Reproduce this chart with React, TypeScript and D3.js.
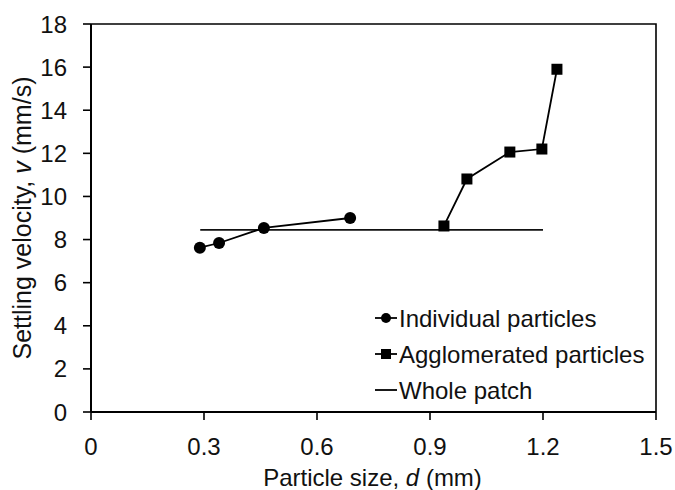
import React from "react";
import * as d3 from "d3";

const individualD = [0.289, 0.34, 0.459, 0.688];
const individualV = [7.62, 7.84, 8.54, 9.0];
const agglomD = [0.937, 0.998, 1.112, 1.197, 1.237];
const agglomV = [8.63, 10.81, 12.06, 12.2, 15.9];
const wholeD = [0.29, 1.2];
const wholeV = [8.45, 8.45];
const xTicks = [0, 0.3, 0.6, 0.9, 1.2, 1.5];
const yTicks = [0, 2, 4, 6, 8, 10, 12, 14, 16, 18];
const legendLabels = ["Individual particles", "Agglomerated particles", "Whole patch"];

const W = 675, H = 490;
const M = { left: 91, right: 656, top: 24, bottom: 412 };
const FONT = "'Liberation Sans', Arial, sans-serif";

export default function App() {
  const x = d3.scaleLinear().domain([0, 1.5]).range([M.left, M.right]);
  const y = d3.scaleLinear().domain([0, 18]).range([M.bottom, M.top]);
  const line = d3.line<[number, number]>().x(d => x(d[0])).y(d => y(d[1]));
  const ind = individualD.map((d, i) => [d, individualV[i]] as [number, number]);
  const agg = agglomD.map((d, i) => [d, agglomV[i]] as [number, number]);
  const whole = wholeD.map((d, i) => [d, wholeV[i]] as [number, number]);
  const fs = 24;
  const legX = 375, legY = 318, legStep = 36;
  return (
    <svg width={W} height={H} style={{ position: "absolute", left: 0, top: 0, background: "#fff" }}
      fontFamily={FONT}>
      <rect x={0} y={0} width={W} height={H} fill="#fff" />
      {/* frame */}
      <path d={`M${M.left},${M.top}H${M.right}V${M.bottom}`} fill="none" stroke="#000" strokeWidth={1.6} />
      <line x1={M.left} x2={M.left} y1={M.top} y2={M.bottom} stroke="#000" strokeWidth={2} />
      <line x1={M.left} x2={M.right} y1={M.bottom} y2={M.bottom} stroke="#000" strokeWidth={2} />
      {yTicks.map(t => (
        <g key={"y" + t}>
          <line x1={M.left - 8} x2={M.left} y1={y(t)} y2={y(t)} stroke="#000" strokeWidth={1.6} />
          <text x={67} y={y(t) + 8.5} textAnchor="end" fontSize={fs} fill="#111">{t}</text>
        </g>
      ))}
      {xTicks.map(t => (
        <g key={"x" + t}>
          <line x1={x(t)} x2={x(t)} y1={M.bottom} y2={M.bottom + 8} stroke="#000" strokeWidth={1.6} />
          <text x={x(t)} y={455} textAnchor="middle" fontSize={fs} fill="#111">{t}</text>
        </g>
      ))}
      <text x={(M.left + M.right) / 2 - 1} y={486} textAnchor="middle" fontSize={fs} fill="#111">
        Particle size, <tspan fontStyle="italic">d</tspan> (mm)
      </text>
      <text transform={`translate(31,${(M.top + M.bottom) / 2}) rotate(-90)`} textAnchor="middle" fontSize={25} fill="#111">
        Settling velocity, <tspan fontStyle="italic">v</tspan> (mm/s)
      </text>
      {/* whole patch */}
      <path d={line(whole) || ""} fill="none" stroke="#111" strokeWidth={1.8} />
      {/* individual */}
      <path d={line(ind) || ""} fill="none" stroke="#000" strokeWidth={1.8} />
      {ind.map((p, i) => <circle key={"c" + i} cx={x(p[0])} cy={y(p[1])} r={6} fill="#000" />)}
      {/* agglomerated */}
      <path d={line(agg) || ""} fill="none" stroke="#000" strokeWidth={1.8} />
      {agg.map((p, i) => <rect key={"s" + i} x={x(p[0]) - 5.5} y={y(p[1]) - 5.5} width={11} height={11} fill="#000" />)}
      {/* legend */}
      {legendLabels.map((lab, i) => {
        const cy = legY + i * legStep;
        return (
          <g key={lab}>
            <line x1={legX} x2={legX + 22} y1={cy} y2={cy} stroke="#000" strokeWidth={1.8} />
            {i === 0 && <circle cx={legX + 11} cy={cy} r={5} fill="#000" />}
            {i === 1 && <rect x={legX + 6} y={cy - 5} width={10} height={10} fill="#000" />}
            <text x={legX + 24} y={cy + 8.5} fontSize={fs} fill="#111">{lab}</text>
          </g>
        );
      })}
    </svg>
  );
}
